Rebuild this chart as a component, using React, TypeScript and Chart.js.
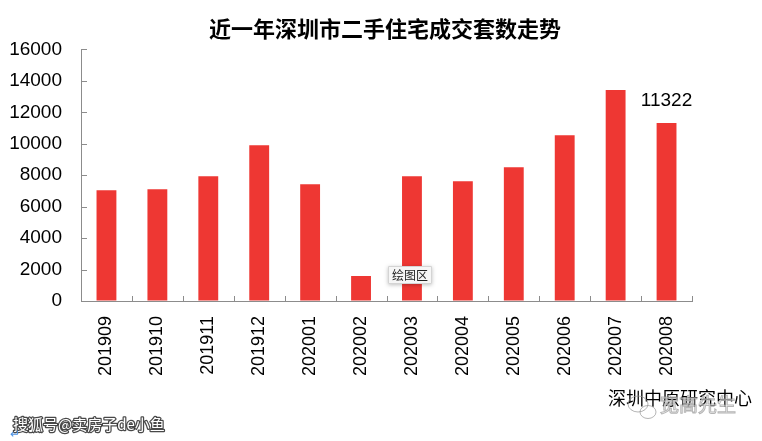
import React, { useEffect, useRef } from 'react';
import { Chart, registerables } from 'chart.js';

Chart.register(...registerables);

const months = ['201909', '201910', '201911', '201912', '202001', '202002', '202003', '202004', '202005', '202006', '202007', '202008'];
const deals = [7046, 7110, 7938, 9911, 7428, 1591, 7938, 7620, 8511, 10548, 13412, 11322];
const yMin = 0;
const yMax = 16000;
const yStep = 2000;
const labeledIndex = 11;
const titleText = '近一年深圳市二手住宅成交套数走势';
const sourceText = '深圳中原研究中心';
const watermarkText = '宽高先生';
const creditText = '搜狐号@卖房子de小鱼';
const hoverTipText = '绘图区';

const BAR = '#EE3733';
const AXIS = '#8C8C8C';
const CJK = '"Noto Sans CJK SC", sans-serif';
const LAT = '"Liberation Sans", Arial, sans-serif';

const decorPlugin = {
  id: 'decor',
  afterDraw(chart: any) {
    const { ctx, chartArea, scales } = chart;
    const x = scales.x;
    const y = scales.y;
    ctx.save();
    // title
    ctx.fillStyle = '#000';
    ctx.font = `bold 22px ${CJK}`;
    ctx.textAlign = 'center';
    ctx.textBaseline = 'middle';
    ctx.fillText(titleText, 385, 29);

    // inward tick marks
    ctx.strokeStyle = AXIS;
    ctx.lineWidth = 1;
    ctx.beginPath();
    for (let i = 0; i <= months.length; i++) {
      const px = Math.round(x.getPixelForValue(i - 0.5)) + 0.5;
      ctx.moveTo(px, chartArea.bottom);
      ctx.lineTo(px, chartArea.bottom - 5);
    }
    for (let v = yMin; v <= yMax; v += yStep) {
      const py = Math.round(y.getPixelForValue(v)) + 0.5;
      ctx.moveTo(chartArea.left, py);
      ctx.lineTo(chartArea.left + 6, py);
    }
    ctx.stroke();

    // value label
    const el = chart.getDatasetMeta(0).data[labeledIndex];
    if (el) {
      ctx.fillStyle = '#000';
      ctx.font = `19px ${LAT}`;
      ctx.textAlign = 'center';
      ctx.textBaseline = 'middle';
      ctx.fillText(String(deals[labeledIndex]), el.x, el.y - 22);
    }

    // source text
    ctx.fillStyle = '#000';
    ctx.font = `18px ${CJK}`;
    ctx.textAlign = 'left';
    ctx.textBaseline = 'middle';
    ctx.fillText(sourceText, 608, 398);

    // watermark
    ctx.font = `19px ${CJK}`;
    ctx.lineWidth = 1;
    ctx.strokeStyle = 'rgba(150,150,150,0.7)';
    ctx.fillStyle = 'rgba(255,255,255,0.55)';
    ctx.fillText(watermarkText, 660, 405);
    ctx.strokeText(watermarkText, 660, 405);
    ctx.beginPath();
    ctx.ellipse(638, 404, 10, 8, 0, 0, Math.PI * 2);
    ctx.stroke();
    ctx.beginPath();
    ctx.ellipse(648, 412, 8, 6.5, 0, 0, Math.PI * 2);
    ctx.stroke();

    // credit text
    ctx.font = `15px ${CJK}`;
    ctx.lineJoin = 'round';
    ctx.lineWidth = 2.5;
    ctx.strokeStyle = 'rgba(40,40,40,0.85)';
    ctx.fillStyle = '#fff';
    ctx.strokeText(creditText, 13, 424);
    ctx.fillText(creditText, 13, 424);
    ctx.fillStyle = '#4A90E2';
    ctx.font = `12px ${LAT}`;
    ctx.fillText('↵', 10, 435);

    // hover tooltip box
    ctx.shadowColor = 'rgba(0,0,0,0.25)';
    ctx.shadowBlur = 4;
    ctx.shadowOffsetY = 1;
    ctx.fillStyle = '#f6f6f6';
    ctx.beginPath();
    ctx.rect(388, 266, 44, 18);
    ctx.fill();
    ctx.shadowColor = 'transparent';
    ctx.strokeStyle = '#d4d4d4';
    ctx.lineWidth = 1;
    ctx.strokeRect(388.5, 266.5, 43, 17);
    ctx.fillStyle = '#222';
    ctx.font = `12px ${CJK}`;
    ctx.textAlign = 'center';
    ctx.fillText(hoverTipText, 410, 275.5);
    ctx.restore();
  },
};

export default function App() {
  const ref = useRef<HTMLCanvasElement>(null);
  useEffect(() => {
    if (!ref.current) return;
    const chart = new Chart(ref.current, {
      type: 'bar',
      data: {
        labels: months,
        datasets: [
          {
            data: deals,
            backgroundColor: BAR,
            borderWidth: 0,
            barPercentage: 0.39,
            categoryPercentage: 1,
          },
        ],
      },
      options: {
        responsive: false,
        animation: false,
        devicePixelRatio: 1,
        layout: { padding: { left: 0, right: 70, top: 49.4, bottom: 0 } },
        plugins: {
          legend: { display: false },
          tooltip: { enabled: false },
          title: { display: false },
        },
        scales: {
          x: {
            grid: { display: true, drawOnChartArea: false, drawTicks: false },
            border: { display: true, color: AXIS },
            ticks: {
              autoSkip: false,
              minRotation: 90,
              maxRotation: 90,
              padding: 15,
              color: '#000',
              font: { family: LAT, size: 18 },
            },
            afterFit: (s: any) => {
              s.height = 140;
            },
          },
          y: {
            min: yMin,
            max: yMax,
            grid: { display: true, drawOnChartArea: false, drawTicks: false },
            border: { display: true, color: AXIS },
            ticks: {
              stepSize: yStep,
              padding: 19,
              color: '#000',
              font: { family: LAT, size: 19 },
              callback: (v: any) => String(v),
            },
            afterFit: (s: any) => {
              s.width = 81;
            },
          },
        },
      },
      plugins: [decorPlugin],
    });
    return () => chart.destroy();
  }, []);
  return (
    <div style={{ position: 'absolute', left: 0, top: 0, width: 762, height: 441, background: '#fff' }}>
      <canvas ref={ref} width={762} height={441} style={{ display: 'block' }} />
    </div>
  );
}
